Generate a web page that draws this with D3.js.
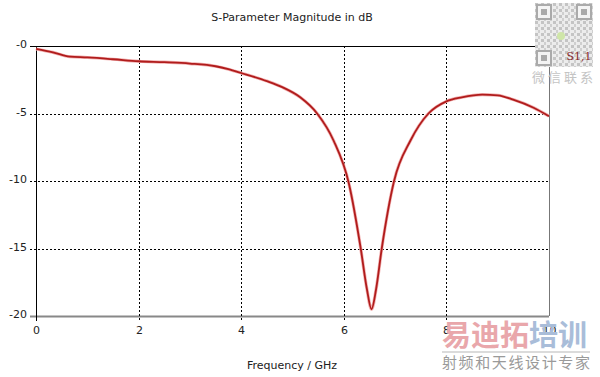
<!DOCTYPE html>
<html>
<head>
<meta charset="utf-8">
<script src="https://cdn.jsdelivr.net/npm/d3@7"></script>
<style>
  body { margin: 0; background: #fff; }
  svg { display: block; }
  text { font-family: "DejaVu Sans", Verdana, sans-serif; font-size: 11px; fill: #222; }
</style>
</head>
<body>
<div id="chart"></div>
<script>
// S11 (GHz, dB)
var freq = [0, 0.33, 0.66, 1.0, 1.5, 2.0, 2.5, 3.0, 3.5, 3.75, 4.0, 4.5, 4.8, 5.15, 5.48, 5.8, 6.1, 6.33, 6.45, 6.54, 6.63, 6.74, 6.98, 7.3, 7.65, 8.0, 8.3, 8.7, 9.0, 9.3, 9.7, 10];
var s11 = [-0.22, -0.47, -0.79, -0.85, -0.98, -1.13, -1.2, -1.3, -1.5, -1.72, -2.0, -2.6, -3.05, -3.8, -5.0, -7.0, -10.2, -15.0, -18.0, -19.5, -18.0, -15.0, -10.0, -7.0, -5.0, -4.1, -3.8, -3.6, -3.65, -3.97, -4.57, -5.2];

var xTicks = [0, 2, 4, 6, 8, 10];
var yTicks = [0, -5, -10, -15, -20];
var yTickLabels = ['-0', '-5', '-10', '-15', '-20'];

var width = 600, height = 377;
var margin = {top: 46, right: 51, bottom: 61, left: 36};

var svg = d3.select('#chart').append('svg')
    .attr('width', width)
    .attr('height', height);

var x = d3.scaleLinear()
    .domain([0, 10])
    .range([margin.left, width - margin.right]);

var y = d3.scaleLinear()
    .domain([-20, 0])
    .range([height - margin.bottom, margin.top]);

// title
svg.append('text')
    .attr('x', 292)
    .attr('y', 21)
    .attr('text-anchor', 'middle')
    .text('S-Parameter Magnitude in dB');

// horizontal grid (dashed), top solid, bottom gray
yTicks.forEach(function(t, i) {
    var yy = Math.round(y(t)) + 0.5;
    var line = svg.append('line')
        .attr('x1', 30).attr('x2', x(10))
        .attr('y1', yy).attr('y2', yy);
    if (t === 0) {
        line.attr('stroke', '#000').attr('stroke-width', 1);
    } else if (t === -20) {
        line.attr('stroke', '#888').attr('stroke-width', 2);
    } else {
        line.attr('stroke', '#000').attr('stroke-width', 1).attr('stroke-dasharray', '2,2');
    }
    svg.append('text')
        .attr('x', 27)
        .attr('y', yy + 1)
        .attr('text-anchor', 'end')
        .text(yTickLabels[i]);
});

// vertical grid
xTicks.forEach(function(t) {
    var xx = Math.round(x(t)) + 0.5;
    if (t > 0 && t < 10) {
        svg.append('line')
            .attr('x1', xx).attr('x2', xx)
            .attr('y1', y(0)).attr('y2', y(-20) + 5)
            .attr('stroke', '#000')
            .attr('stroke-dasharray', '2,2');
    }
    svg.append('text')
        .attr('x', xx)
        .attr('y', 334)
        .attr('text-anchor', 'middle')
        .text(t);
});

// left axis black, right border gray
svg.append('line')
    .attr('x1', x(0) + 0.5).attr('x2', x(0) + 0.5)
    .attr('y1', y(0)).attr('y2', y(-20) + 5)
    .attr('stroke', '#000');
svg.append('line')
    .attr('x1', Math.round(x(10)) + 0.5).attr('x2', Math.round(x(10)) + 0.5)
    .attr('y1', y(0)).attr('y2', y(-20))
    .attr('stroke', '#777');

// curve
var pts = freq.map(function(f, i) { return [f, s11[i]]; });
var line = d3.line()
    .x(function(d) { return x(d[0]); })
    .y(function(d) { return y(d[1]); })
    .curve(d3.curveMonotoneX);

svg.append('path')
    .datum(pts)
    .attr('d', line)
    .attr('fill', 'none')
    .attr('stroke', '#f2b0b0')
    .attr('stroke-width', 3.2);
svg.append('path')
    .datum(pts)
    .attr('d', line)
    .attr('fill', 'none')
    .attr('stroke', '#b01c1c')
    .attr('stroke-width', 1.8);

// x axis label
svg.append('text')
    .attr('x', 292)
    .attr('y', 369)
    .attr('text-anchor', 'middle')
    .text('Frequency / GHz');

// watermark: QR-like block
var defs = svg.append('defs');
var pat = defs.append('pattern')
    .attr('id', 'qrdots')
    .attr('width', 6).attr('height', 6)
    .attr('patternUnits', 'userSpaceOnUse');
pat.append('rect').attr('width', 6).attr('height', 6).attr('fill', '#ececec');
pat.append('rect').attr('x', 0).attr('y', 0).attr('width', 3).attr('height', 3).attr('fill', '#c4c4c4');
pat.append('rect').attr('x', 3).attr('y', 3).attr('width', 2).attr('height', 3).attr('fill', '#cfcfcf');

var qr = svg.append('g').attr('transform', 'translate(535,3)');
qr.append('rect').attr('width', 58).attr('height', 64).attr('fill', 'url(#qrdots)');
[[2, 2], [42, 2], [2, 48]].forEach(function(p) {
    qr.append('rect').attr('x', p[0] - 1).attr('y', p[1] - 1).attr('width', 16).attr('height', 16)
        .attr('fill', '#f4f4f4');
    qr.append('rect').attr('x', p[0]).attr('y', p[1]).attr('width', 14).attr('height', 14)
        .attr('fill', 'none').attr('stroke', '#aaa').attr('stroke-width', 2);
    qr.append('rect').attr('x', p[0] + 4).attr('y', p[1] + 4).attr('width', 6).attr('height', 6)
        .attr('fill', '#aaa');
});
qr.append('circle').attr('cx', 26).attr('cy', 33).attr('r', 4).attr('fill', '#cfe6a8');
svg.append('text')
    .attr('x', 564).attr('y', 82)
    .attr('text-anchor', 'middle')
    .style('font-family', '"Noto Sans CJK SC"')
    .style('font-size', '13px')
    .style('fill', '#c4c4c4')
    .style('letter-spacing', '3px')
    .text('微信联系');

// legend label
svg.append('text')
    .attr('x', 579).attr('y', 60)
    .attr('text-anchor', 'middle')
    .style('font-family', '"DejaVu Serif", serif')
    .style('font-size', '11px')
    .style('fill', '#8a2a2a')
    .text('S1,1');

// watermark text bottom right
var wm = svg.append('text')
    .attr('x', 442).attr('y', 346)
    .style('font-family', '"Noto Sans CJK SC"')
    .style('font-size', '29px')
    .style('font-weight', 'bold');
wm.append('tspan').style('fill', '#e9a7ab').text('易迪拓');
wm.append('tspan').style('fill', '#a9bdd9').text('培训');
svg.append('line')
    .attr('x1', 442).attr('x2', 590)
    .attr('y1', 352).attr('y2', 352)
    .attr('stroke', '#cfcfcf').attr('stroke-width', 1.5);
svg.append('text')
    .attr('x', 442).attr('y', 368)
    .attr('textLength', 148)
    .style('font-family', '"Noto Sans CJK SC"')
    .style('font-size', '15px')
    .style('fill', '#9a9a9a')
    .text('射频和天线设计专家');
</script>
</body>
</html>
